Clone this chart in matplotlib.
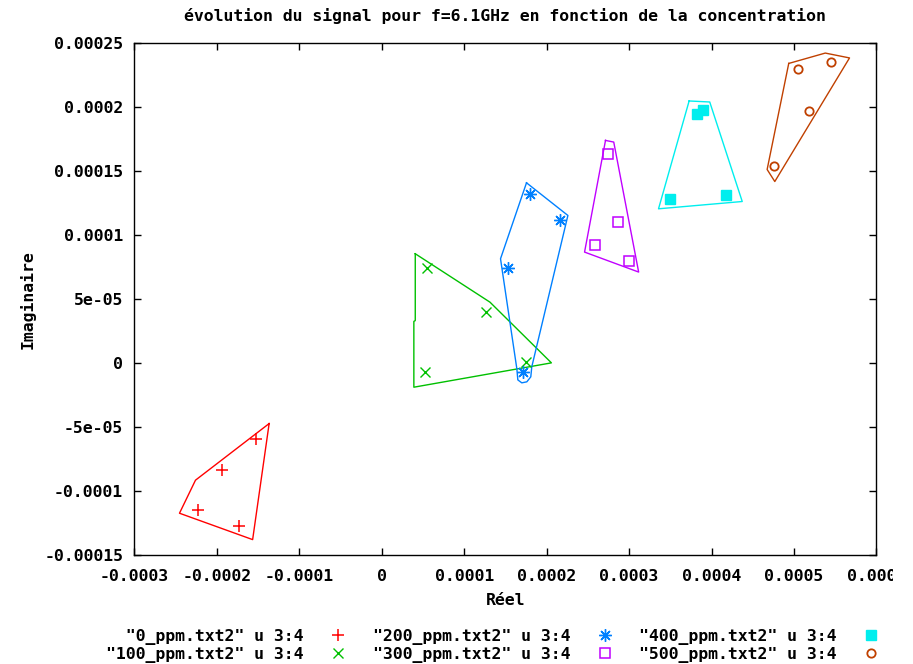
import matplotlib
matplotlib.use("Agg")
import matplotlib.pyplot as plt
from matplotlib.ticker import FixedLocator, FuncFormatter
from matplotlib.transforms import Bbox, TransformedBbox

# ---- data (real, imaginary) ----
labels = ['"0_ppm.txt2" u 3:4', '"100_ppm.txt2" u 3:4', '"200_ppm.txt2" u 3:4',
          '"300_ppm.txt2" u 3:4', '"400_ppm.txt2" u 3:4', '"500_ppm.txt2" u 3:4']

ppm0_re = [-1.525e-4, -1.937e-4, -2.227e-4, -1.731e-4]
ppm0_im = [-5.94e-5, -8.36e-5, -1.148e-4, -1.273e-4]
ppm100_re = [5.48e-5, 1.264e-4, 1.744e-4, 5.28e-5]
ppm100_im = [7.40e-5, 4.01e-5, 1.0e-6, -6.8e-6]
ppm200_re = [1.796e-4, 2.158e-4, 1.527e-4, 1.715e-4]
ppm200_im = [1.320e-4, 1.117e-4, 7.42e-5, -7.3e-6]
ppm300_re = [2.742e-4, 2.862e-4, 2.581e-4, 2.995e-4]
ppm300_im = [1.627e-4, 1.099e-4, 9.22e-5, 7.99e-5]
ppm400_re = [3.821e-4, 3.901e-4, 3.495e-4, 4.179e-4]
ppm400_im = [1.940e-4, 1.977e-4, 1.276e-4, 1.307e-4]
ppm500_re = [5.048e-4, 5.447e-4, 5.186e-4, 4.755e-4]
ppm500_im = [2.291e-4, 2.349e-4, 1.963e-4, 1.541e-4]

# hand-drawn outlines around each group
hull0_re = [-1.365e-4, -2.258e-4, -2.452e-4, -1.565e-4, -1.365e-4]
hull0_im = [-4.74e-5, -9.16e-5, -1.174e-4, -1.380e-4, -4.74e-5]
hull100_re = [4.07e-5, 4.07e-5, 3.90e-5, 3.90e-5, 2.058e-4, 1.313e-4, 4.07e-5]
hull100_im = [8.52e-5, 3.30e-5, 3.24e-5, -1.90e-5, 0.0, 4.74e-5, 8.52e-5]
hull200_re = [1.756e-4, 2.258e-4, 1.820e-4, 1.808e-4, 1.760e-4, 1.699e-4,
              1.651e-4, 1.639e-4, 1.453e-4, 1.441e-4, 1.756e-4]
hull200_im = [1.406e-4, 1.151e-4, -3.1e-6, -1.09e-5, -1.48e-5, -1.56e-5,
              -1.33e-5, -4.7e-6, 7.60e-5, 8.13e-5, 1.406e-4]
hull300_re = [2.714e-4, 2.814e-4, 3.116e-4, 2.46e-4, 2.714e-4]
hull300_im = [1.737e-4, 1.724e-4, 7.09e-5, 8.65e-5, 1.737e-4]
hull400_re = [3.728e-4, 3.978e-4, 4.372e-4, 3.357e-4, 3.728e-4]
hull400_im = [2.045e-4, 2.037e-4, 1.260e-4, 1.203e-4, 2.045e-4]
hull500_re = [4.936e-4, 5.379e-4, 5.673e-4, 4.767e-4, 4.674e-4, 4.936e-4]
hull500_im = [2.338e-4, 2.419e-4, 2.381e-4, 1.416e-4, 1.510e-4, 2.338e-4]

x_ticks = [-0.0003, -0.0002, -0.0001, 0, 0.0001, 0.0002, 0.0003, 0.0004, 0.0005, 0.0006]
y_ticks = [-0.00015, -0.0001, -5e-05, 0, 5e-05, 0.0001, 0.00015, 0.0002, 0.00025]

# ---- style ----
FONT = "DejaVu Sans Mono"
FS = 11.85
plt.rcParams['font.family'] = [FONT]
plt.rcParams['font.weight'] = 'bold'
plt.rcParams['font.size'] = FS

colors = ['#ff0000', '#00c000', '#0080ff', '#c000ff', '#00eeee', '#c04000']
series = [(ppm0_re, ppm0_im), (ppm100_re, ppm100_im), (ppm200_re, ppm200_im),
          (ppm300_re, ppm300_im), (ppm400_re, ppm400_im), (ppm500_re, ppm500_im)]
hulls = [(hull0_re, hull0_im), (hull100_re, hull100_im), (hull200_re, hull200_im),
         (hull300_re, hull300_im), (hull400_re, hull400_im), (hull500_re, hull500_im)]
marker_styles = [
    dict(marker='+', ms=9, mew=1.1),
    dict(marker='x', ms=7.5, mew=1.0),
    dict(marker=(8, 2, 0), ms=9, mew=1.0),
    dict(marker='s', ms=7.5, mew=1.1, mfc='none'),
    dict(marker='s', ms=7.5, mew=1.0),
    dict(marker='o', ms=6, mew=1.3, mfc='none'),
]

fig = plt.figure(figsize=(9.13, 6.64), dpi=100)
ax = fig.add_axes([0.1471, 0.1642, 0.8129, 0.7715])

handles = []
for (xs, ys), (hx, hy), c, ms in zip(series, hulls, colors, marker_styles):
    ax.plot(hx, hy, color=c, lw=1.0, zorder=2)
    h, = ax.plot(xs, ys, ls='none', color=c, mec=c, zorder=3, **ms)
    handles.append(h)

ax.set_xlim(-0.0003, 0.0006)
ax.set_ylim(-0.00015, 0.00025)
ax.xaxis.set_major_locator(FixedLocator(x_ticks))
ax.yaxis.set_major_locator(FixedLocator(y_ticks))
fmt = FuncFormatter(lambda v, p: '%g' % round(v, 10))
ax.xaxis.set_major_formatter(fmt)
ax.yaxis.set_major_formatter(fmt)
ax.tick_params(direction='in', length=5, width=1, top=True, right=True,
               labelsize=FS, colors='black')
ax.tick_params(axis='x', pad=10)
ax.tick_params(axis='y', pad=8)
for s in ax.spines.values():
    s.set_linewidth(1.0)
    s.set_color('black')

fig.text(0.5535, 1 - 16 / 664, "évolution du signal pour f=6.1GHz en fonction de la concentration",
         ha='center', va='center', fontsize=FS, fontweight='bold')
ax.set_xlabel("Réel", fontsize=FS, fontweight='bold')
ax.xaxis.set_label_coords(0.5, (555 - 601) / 512.3)
ax.xaxis.label.set_va('center')
ax.set_ylabel("Imaginaire", fontsize=FS, fontweight='bold')
ax.yaxis.set_label_coords((28 - 134.3) / 742.2, (555 - 300) / 512.3)
ax.yaxis.label.set_va('center')

# right-align legend text like gnuplot (monospace padding)
maxlen = [max(len(labels[0]), len(labels[1])), max(len(labels[2]), len(labels[3])),
          max(len(labels[4]), len(labels[5]))]
padded = [lab.rjust(maxlen[i // 2]) for i, lab in enumerate(labels)]
leg = fig.legend(handles, padded, ncol=3, markerfirst=False, frameon=False,
                 loc='upper left', bbox_to_anchor=(106 / 913, 1 - 629 / 664),
                 borderpad=0, borderaxespad=0, handlelength=2.0, handletextpad=1.1,
                 columnspacing=1.1, labelspacing=0.12, numpoints=1,
                 prop=dict(family=FONT, weight='bold', size=FS))

# the last x tick label is cut by the canvas edge in the original
fig.canvas.draw()
clip = TransformedBbox(Bbox([[0, 0], [893 / 913, 1]]), fig.transFigure)
for lab in ax.get_xticklabels():
    lab.set_fontweight('bold')
    lab.set_clip_box(clip)
    lab.set_clip_on(True)

fig.savefig("out.png", dpi=100)
